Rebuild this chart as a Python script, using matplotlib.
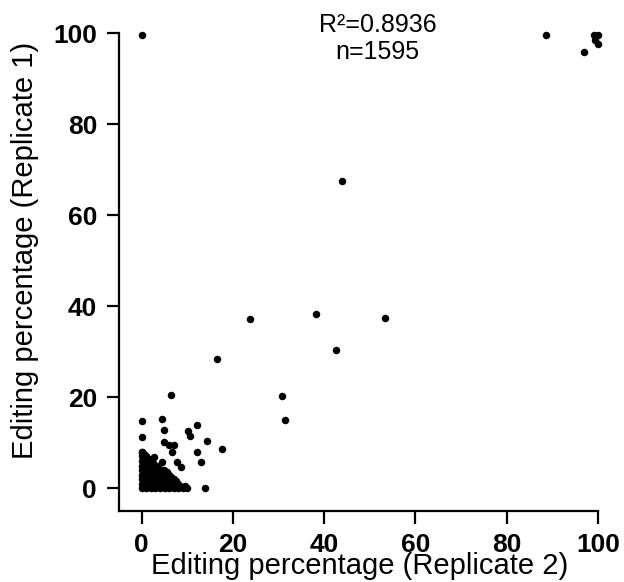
import matplotlib
matplotlib.use("Agg")
import matplotlib.pyplot as plt

plt.rcParams['font.family'] = ['Liberation Sans', 'DejaVu Sans']

# scattered points (Replicate 2 on x, Replicate 1 on y)
rep2_sparse = [0, 88.6, 97.0, 99.1, 100, 99.4, 100,
               43.9, 23.7, 38.2, 53.3, 42.6, 16.5, 30.7, 31.4,
               6.5, 0, 4.5, 12.1, 4.9, 10.2, 0, 10.6, 14.3, 4.9,
               6.0, 7.1, 17.7, 12.2, 6.7, 0, 2.7, 4.5, 7.8, 13.1,
               8.6, 13.8]
rep1_sparse = [99.6, 99.6, 95.8, 99.6, 99.6, 98.5, 97.6,
               67.5, 37.2, 38.4, 37.4, 30.4, 28.5, 20.3, 15.0,
               20.6, 14.8, 15.3, 14.0, 12.9, 12.6, 11.3, 11.6, 10.5, 10.2,
               9.5, 9.5, 8.7, 8.0, 8.0, 8.0, 6.9, 5.8, 5.8, 5.8,
               4.7, 0.0]

# the dense block of low-editing sites near the origin (estimated)
rep2_dense = [0, 1, 2, 3, 4, 5, 6, 7, 8, 9, 10,
              0, 1, 2, 3, 4, 5, 6, 7, 8,
              0, 1, 2, 3, 4, 5, 6, 7,
              0, 1, 2, 3, 4, 5, 6,
              0, 1, 2, 3, 4, 4.8,
              0, 1, 2, 3, 3.5,
              0, 1, 2,
              0, 1,
              0,
              0.5, 1.5, 2.5, 3.5, 4.5, 5.5, 6.5, 7.5, 8.5, 9.5,
              0.5, 1.5, 2.5, 3.5, 4.5, 5.5, 6.5, 7.5,
              0.5, 1.5, 2.5, 3.5, 4.5, 5.5, 6.5,
              0.5, 1.5, 2.5, 3.5, 4.5, 5.5,
              0.5, 1.5, 2.5, 3.5,
              0.5, 1.5, 2.5,
              0.5, 1.5,
              0.5]
rep1_dense = [0, 0, 0, 0, 0, 0, 0, 0, 0, 0, 0,
              1, 1, 1, 1, 1, 1, 1, 1, 1,
              2, 2, 2, 2, 2, 2, 2, 2,
              3, 3, 3, 3, 3, 3, 3,
              4, 4, 4, 4, 4, 4,
              5, 5, 5, 5, 5,
              6, 6, 6,
              7, 7,
              8,
              0.5, 0.5, 0.5, 0.5, 0.5, 0.5, 0.5, 0.5, 0.5, 0.5,
              1.5, 1.5, 1.5, 1.5, 1.5, 1.5, 1.5, 1.5,
              2.5, 2.5, 2.5, 2.5, 2.5, 2.5, 2.5,
              3.5, 3.5, 3.5, 3.5, 3.5, 3.5,
              4.5, 4.5, 4.5, 4.5,
              5.5, 5.5, 5.5,
              6.5, 6.5,
              7.5]

r_squared = "0.8936"
n_sites = 1595
ticks = [0, 20, 40, 60, 80, 100]

fig = plt.figure(figsize=(6.24, 5.82), dpi=100)
ax = fig.add_axes([0.1912, 0.1220, 0.7671, 0.8208])

ax.plot(rep2_dense + rep2_sparse, rep1_dense + rep1_sparse, 'o',
        color='black', markersize=5.4, markeredgewidth=0, clip_on=False)

ax.set_xlim(-4.91, 100)
ax.set_ylim(-4.99, 100)
ax.set_xticks(ticks)
ax.set_yticks(ticks)

for side in ['top', 'right']:
    ax.spines[side].set_visible(False)
for side in ['left', 'bottom']:
    ax.spines[side].set_linewidth(1.6)

ax.tick_params(direction='out', length=9, width=1.6, labelsize=19)
ax.tick_params(axis='x', pad=7)
ax.tick_params(axis='y', pad=7)
for lab in ax.get_xticklabels() + ax.get_yticklabels():
    lab.set_fontweight('bold')

ax.set_xlabel('Editing percentage (Replicate 2)', fontsize=21)
ax.xaxis.label.set_va('baseline')
ax.xaxis.set_label_coords(0.5016, -0.1319)
ax.set_ylabel('Editing percentage (Replicate 1)', fontsize=21)
ax.yaxis.label.set_va('baseline')
ax.yaxis.set_label_coords(-0.1797, 0.546)

ax.text(0.540, 1.0027, 'R²=' + r_squared, transform=ax.transAxes,
        ha='center', va='baseline', fontsize=18)
ax.text(0.540, 0.9462, 'n=' + str(n_sites), transform=ax.transAxes,
        ha='center', va='baseline', fontsize=18)

fig.savefig('out.png', dpi=100)
